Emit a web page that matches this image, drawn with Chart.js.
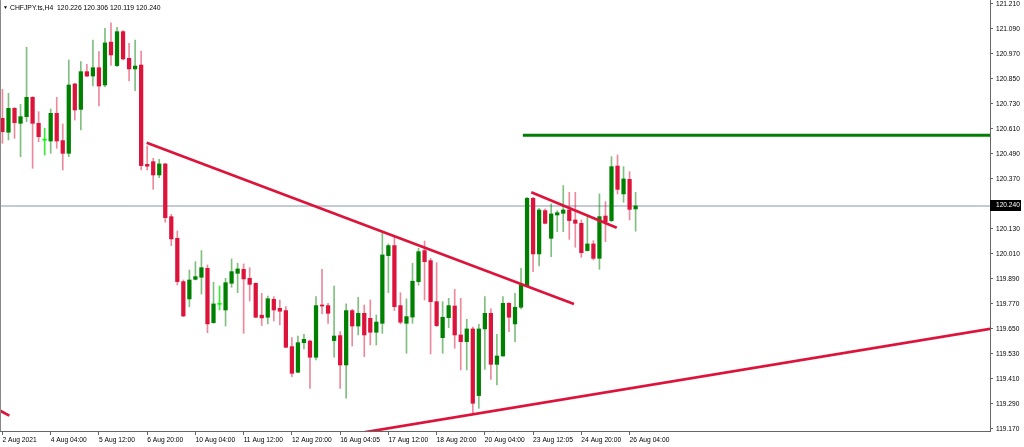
<!DOCTYPE html>
<html><head><meta charset="utf-8">
<script src="https://cdn.jsdelivr.net/npm/chart.js@4.4.0/dist/chart.umd.min.js"></script>
<style>html,body{margin:0;padding:0;background:#fff;overflow:hidden}#wrap{width:1024px;height:447px;position:relative}</style>
</head><body><div id="wrap"><canvas id="c" width="1024" height="447"></canvas></div>
<script>
const symbolTitle = 'CHFJPY.ts,H4';
const firstBar = 5;
const opens = [120.661,120.594,120.709,120.637,120.669,120.762,120.637,120.556,120.552,120.685,
120.554,120.493,120.826,120.704,120.885,120.864,120.904,120.821,121.027,120.914,
121.077,120.949,120.898,120.917,120.440,120.453,120.389,120.442,120.189,120.085,
119.877,119.794,119.888,119.898,119.941,119.680,119.768,119.741,119.869,119.917,
119.936,119.893,119.869,119.716,119.706,119.792,119.749,119.738,119.565,119.442,
119.584,119.592,119.514,119.765,119.762,119.594,119.618,119.477,119.738,119.664,
119.725,119.701,119.634,119.677,120.002,120.050,119.762,119.677,119.707,119.877,
120.026,119.978,119.781,119.608,119.704,119.760,119.621,119.589,119.650,119.330,
119.650,119.725,119.480,119.520,119.773,119.674,119.754,119.856,120.277,120.010,
120.218,120.085,120.197,120.205,120.221,120.173,120.157,120.026,120.058,119.989,
120.192,120.170,120.432,120.298,120.368,120.226];
const highs = [120.800,120.781,120.713,120.728,121.002,120.765,120.693,120.613,120.706,120.762,
120.634,120.941,120.829,120.933,120.920,121.037,120.981,121.093,121.119,121.098,
121.082,121.021,121.037,120.984,120.528,120.469,120.464,120.445,120.200,120.120,
119.885,119.933,119.973,120.026,119.957,119.874,119.856,119.893,119.986,119.965,
119.962,119.944,119.871,119.821,119.808,119.805,119.789,119.757,119.608,119.616,
119.624,119.597,119.805,119.936,119.773,119.856,119.637,119.770,119.744,119.802,
119.765,119.789,119.717,120.112,120.058,120.093,119.824,119.794,119.965,120.037,
120.072,119.989,119.968,119.781,119.797,119.840,119.797,119.696,119.659,119.672,
119.805,119.746,119.624,119.805,119.776,119.821,119.941,120.282,120.282,120.229,
120.226,120.250,120.218,120.338,120.306,120.306,120.173,120.189,120.074,120.298,
120.261,120.477,120.485,120.429,120.405,120.306];
const lows = [120.541,120.557,120.565,120.477,120.645,120.421,120.549,120.485,120.493,120.517,
120.413,120.477,120.653,120.605,120.861,120.816,120.720,120.813,120.915,120.909,
120.941,120.840,120.794,120.413,120.413,120.320,120.376,120.162,120.050,119.861,
119.709,119.757,119.885,119.818,119.632,119.677,119.741,119.664,119.850,119.824,
119.629,119.784,119.704,119.666,119.674,119.688,119.669,119.560,119.421,119.440,
119.554,119.365,119.501,119.722,119.677,119.514,119.365,119.317,119.568,119.621,
119.517,119.573,119.573,119.629,119.824,119.738,119.674,119.533,119.677,119.860,
119.789,119.530,119.661,119.533,119.656,119.557,119.453,119.453,119.237,119.269,
119.456,119.408,119.381,119.519,119.637,119.589,119.746,119.853,119.925,119.952,
120.154,119.997,120.117,120.117,120.080,120.042,119.994,120.024,119.981,119.936,
120.069,120.165,120.298,120.258,120.173,120.119];
const closes = [120.597,120.709,120.640,120.669,120.762,120.637,120.573,120.556,120.685,120.552,
120.493,120.821,120.701,120.885,120.864,120.904,120.816,121.023,120.965,121.077,
120.946,120.898,120.912,120.434,120.431,120.389,120.442,120.184,120.082,119.877,
119.712,119.885,119.901,119.944,119.674,119.770,119.768,119.872,119.925,119.938,
119.890,119.864,119.706,119.703,119.795,119.741,119.735,119.562,119.437,119.584,
119.600,119.514,119.762,119.760,119.725,119.616,119.477,119.738,119.664,119.725,
119.621,119.634,119.683,120.005,120.050,119.757,119.682,119.709,119.879,120.021,
119.973,119.781,119.666,119.706,119.762,119.621,119.589,119.650,119.293,119.650,
119.725,119.480,119.520,119.773,119.706,119.754,119.861,120.277,120.010,120.221,
120.157,120.202,120.208,120.221,120.170,120.157,120.016,120.058,119.989,120.189,
120.165,120.429,120.320,120.370,120.224,120.240];

const tickBars = [5,13,21,29,37,45,53,61,69,77,85,93,101,109];
const tickLabels = ['2 Aug 2021','4 Aug 04:00','5 Aug 12:00','6 Aug 20:00','10 Aug 04:00','11 Aug 12:00','12 Aug 20:00','16 Aug 04:05','17 Aug 12:00','18 Aug 20:00','20 Aug 04:00','23 Aug 12:05','24 Aug 20:00','26 Aug 04:00'];
const priceTicks = [119.170,119.290,119.410,119.530,119.650,119.770,119.890,120.010,120.130,120.250,120.370,120.490,120.610,120.730,120.850,120.970,121.090,121.210];
const bidPrice = 120.240;

const trendDownLong = [[28.92,120.544],[99.78,119.770]];
const trendDownShort = [[92.7,120.306],[106.87,120.136]];
const trendUp = [[60.0,119.130],[175.0,119.680]];
const trendStub = [[4.0,119.267],[6.14,119.234]];
const resistance = [[91.3,120.580],[168.8,120.580]];

const xMin = 4.594, xMax = 168.77, yMin = 119.160, yMax = 121.229;
const FONT = 'Liberation Sans, Arial, sans-serif';

const idx = opens.map((_, i) => firstBar + i);
const isDoji = i => opens[i] === closes[i];
const isBull = i => closes[i] > opens[i];
const bodyCol = i => isDoji(i) ? '#00ff00' : isBull(i) ? '#008000' : '#dc143c';
const wickCol = i => isDoji(i) ? 'rgba(0,230,0,0.8)' : isBull(i) ? 'rgba(0,128,0,0.5)' : 'rgba(220,20,60,0.5)';
const toXY = arr => arr.map(p => ({x: p[0], y: p[1]}));

const lineDs = (pts, color, w, order) => ({type:'line', data: toXY(pts), borderColor: color, borderWidth: w,
  pointRadius: 0, fill: false, tension: 0, order});

const overlay = {
  id: 'overlay',
  afterDraw(chart) {
    const ctx = chart.ctx, ca = chart.chartArea;
    ctx.save();
    // left frame
    ctx.strokeStyle = '#888'; ctx.lineWidth = 1;
    ctx.beginPath(); ctx.moveTo(0.5, 0); ctx.lineTo(0.5, ca.bottom); ctx.stroke();
    // header
    const n = opens.length - 1;
    ctx.fillStyle = '#000';
    ctx.textBaseline = 'middle'; ctx.textAlign = 'left';
    ctx.font = '5px ' + FONT;
    ctx.fillText('\u25BC', 3, 8);
    ctx.font = '6.8px ' + FONT;
    ctx.fillText(symbolTitle + '  ' + [opens[n], highs[n], lows[n], closes[n]].map(v => v.toFixed(3)).join(' '), 10, 8.5);
    // bid price label
    const y = chart.scales.y.getPixelForValue(bidPrice);
    ctx.fillStyle = '#000';
    ctx.fillRect(ca.right, Math.round(y) - 6, 31, 11);
    ctx.fillStyle = '#fff';
    ctx.font = '6.6px ' + FONT;
    ctx.fillText(bidPrice.toFixed(3), ca.right + 6, Math.round(y) - 0.5);
    ctx.restore();
  }
};

new Chart(document.getElementById('c'), {
  type: 'bar',
  data: {
    datasets: [
      lineDs(trendDownLong, '#dc143c', 2.7, 0),
      lineDs(trendDownShort, '#dc143c', 2.7, 0),
      lineDs(trendUp, '#dc143c', 2.7, 0),
      lineDs(trendStub, '#dc143c', 2.7, 0),
      lineDs(resistance, '#008000', 3, 0),
      {type:'bar', data: idx.map((x, i) => ({x, y: [Math.min(opens[i], closes[i]), Math.max(opens[i], closes[i])]})),
        backgroundColor: idx.map((_, i) => bodyCol(i)), barThickness: 3.6, minBarLength: 1, grouped: false, order: 1},
      {type:'bar', data: idx.map((x, i) => ({x, y: [lows[i], highs[i]]})),
        backgroundColor: idx.map((_, i) => wickCol(i)), barThickness: 1, grouped: false, order: 2},
      lineDs([[xMin, bidPrice], [xMax, bidPrice]], '#8696a8', 1, 3)
    ]
  },
  options: {
    responsive: false, animation: false,
    layout: {padding: 0},
    plugins: {legend: {display: false}, tooltip: {enabled: false}, title: {display: false}},
    scales: {
      x: {type: 'linear', min: xMin, max: xMax, offset: false,
        afterBuildTicks: s => { s.ticks = tickBars.map(v => ({value: v})); },
        afterFit: s => { s.height = 16; s.paddingLeft = 0; s.paddingRight = 0; },
        ticks: {autoSkip: false, maxRotation: 0, minRotation: 0, align: 'start', padding: 1, color: '#000',
          font: {family: FONT, size: 6.7}, callback: v => { const k = tickBars.indexOf(v); return k >= 0 ? tickLabels[k] : ''; }},
        grid: {display: true, drawOnChartArea: false, drawTicks: true, tickLength: 4, color: '#666', offset: false},
        border: {display: true, color: '#666', width: 1}
      },
      y: {type: 'linear', position: 'right', min: yMin, max: yMax,
        afterBuildTicks: s => { s.ticks = priceTicks.map(v => ({value: v})); },
        afterFit: s => { s.width = 34; s.paddingTop = 0; s.paddingBottom = 0; },
        ticks: {autoSkip: false, padding: 3, color: '#000', font: {family: FONT, size: 6.6}, callback: v => Number(v).toFixed(3)},
        grid: {display: true, drawOnChartArea: false, drawTicks: true, tickLength: 3, color: '#666'},
        border: {display: true, color: '#666', width: 1}
      }
    }
  },
  plugins: [overlay]
});
</script></body></html>
